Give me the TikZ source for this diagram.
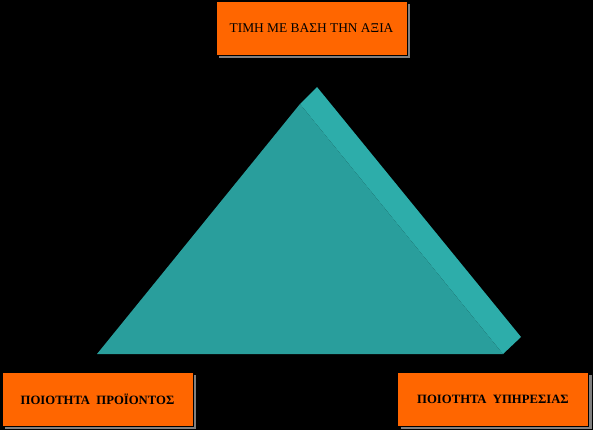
\documentclass[tikz,border=0pt]{standalone}
\usepackage{fontspec}
\setmainfont{Liberation Serif}
\usepackage{tikz}
\usetikzlibrary{shadows}

\begin{document}
\begin{tikzpicture}[x=1pt, y=-1pt, every node/.style={rectangle, draw=black, line width=0.4pt, fill=boxorange, minimum width=191pt, minimum height=54pt, inner sep=0pt, drop shadow={shadow xshift=3pt, shadow yshift=-3pt, fill=shadowgray, opacity=1}}]
    \definecolor{boxorange}{HTML}{FF6600}
    \definecolor{shadowgray}{HTML}{808080}
    \definecolor{frontteal}{HTML}{299E9C}
    \definecolor{sideteal}{HTML}{2DADAA}
    \fill[black] (0,0) rectangle (593,430);
    \useasboundingbox (0,0) rectangle (593,430);
    \coordinate (apexF) at (300,104);
    \coordinate (leftF) at (97,354);
    \coordinate (rightF) at (503,354);
    \coordinate (apexB) at (317,87);
    \coordinate (rightB) at (521,337);
    \fill[sideteal] (apexF) -- (apexB) -- (rightB) -- (rightF) -- cycle;
    \fill[frontteal] (apexF) -- (leftF) -- (rightF) -- cycle;
    \node (value) at (311.5,28) {\fontsize{13.4}{15}\selectfont ΤΙΜΗ ΜΕ ΒΑΣΗ ΤΗΝ ΑΞΙΑ\hspace{20pt}};
    \node (product) at (97.5,399) {\fontsize{12.7}{15}\selectfont\bfseries ΠΟΙΟΤΗΤΑ\ \ ΠΡΟΪΟΝΤΟΣ};
    \node (service) at (493,399) {\fontsize{12.7}{15}\selectfont\bfseries ΠΟΙΟΤΗΤΑ\ \ ΥΠΗΡΕΣΙΑΣ};
\end{tikzpicture}
\end{document}
